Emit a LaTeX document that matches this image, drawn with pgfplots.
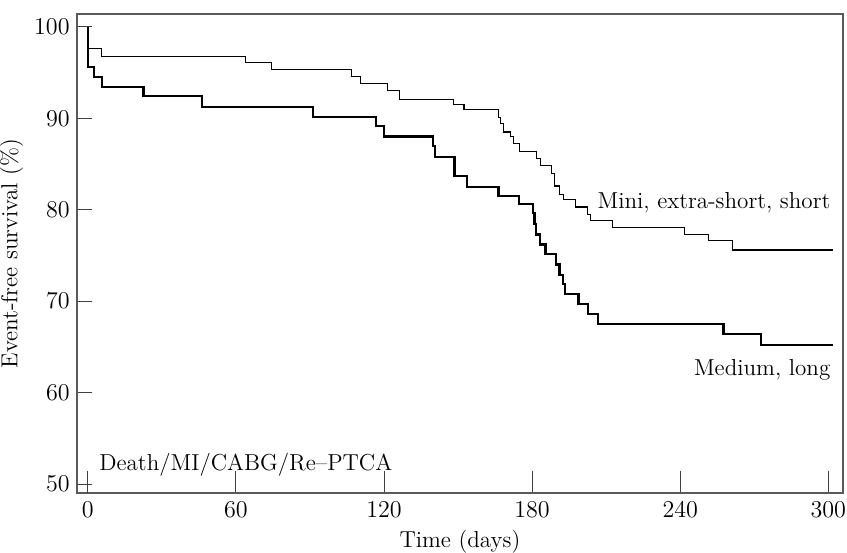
\documentclass[border=0pt]{standalone}
\usepackage{pgfplots}
\pgfplotsset{compat=1.18}

\begin{document}
\begin{tikzpicture}[font=\fontsize{11.5}{13}\selectfont]
\begin{axis}[
    name=ax,
    scale only axis,
    width=381.5pt,
    height=238.5pt,
    xmin=-4.5, xmax=306,
    ymin=49, ymax=101.4,
    xtick={60,120,180,240,300},
    ytick={60,70,80,90,100},
    extra x ticks={0},
    extra y ticks={50},
    extra x tick style={/pgfplots/major tick length=3pt},
    extra y tick style={/pgfplots/major tick length=3pt},
    tick pos=left,
    tick align=inside,
    x tick style={black!75, line width=0.5pt, /pgfplots/major tick length=11pt},
    y tick style={black!75, line width=0.5pt, /pgfplots/major tick length=7.5pt},
    x tick label style={inner sep=0.5pt, yshift=-3.5pt},
    axis line style={black!65, line width=0.8pt},
    xlabel={Time (days)},
    ylabel={Event-free survival (\%)},
    xlabel style={at={(axis description cs:0.5,0)}, anchor=center, inner sep=0pt, yshift=-24pt},
    ylabel style={at={(axis description cs:-0.085,0.5)}, anchor=center, inner sep=0pt},
    clip=false,
]
% Mini, extra-short, short
\addplot[const plot, black, line width=0.55pt] coordinates {
    (0,100) (0,97.6) (5.7,96.8) (64,96.1) (74.5,95.3) (107,94.6)
    (110.4,93.8) (121.5,93.0) (126.2,92.1) (148,91.5) (152.4,91.0)
    (166.4,90.1) (167.3,89.4) (168.4,88.5) (171.1,88.0) (172.5,87.2)
    (175,86.4) (181.6,85.6) (183.3,84.8) (187.7,84.0) (189.1,82.6)
    (191.2,81.7) (192.8,81.1) (197.5,80.3) (202.3,79.5) (203.5,78.8)
    (212.6,78.1) (241.9,77.3) (251.4,76.6) (261.3,75.6) (302,75.6)
};
% Medium, long
\addplot[const plot, black, line width=1.1pt] coordinates {
    (0,100) (0,95.6) (2.5,94.5) (5.9,93.4) (22.6,92.4) (46.4,91.2)
    (91.1,90.1) (116.8,89.2) (120,88.0) (139.8,87.0) (140.8,85.8)
    (148.6,83.7) (153.5,82.5) (166.4,81.5) (174.8,80.6) (180.5,79.6)
    (181.0,78.4) (181.6,77.3) (183.3,76.2) (185.4,75.2) (189.7,74.0)
    (191.1,72.9) (192.4,71.9) (193.4,70.8) (198.8,69.7) (202.6,68.6)
    (206.7,67.5) (257.5,66.4) (272.7,65.2) (302,65.2)
};
\node[anchor=east, inner sep=0pt] at (axis cs:301,80.8) {Mini, extra-short, short};
\node[anchor=east, inner sep=0pt] at (axis cs:301,62.5) {Medium, long};
\node[anchor=west, inner sep=0pt] at (axis cs:4.5,52.1) {Death/MI/CABG/Re--PTCA};
\end{axis}
\path (ax.north) -- ++(0,7pt);
\end{tikzpicture}
\end{document}
